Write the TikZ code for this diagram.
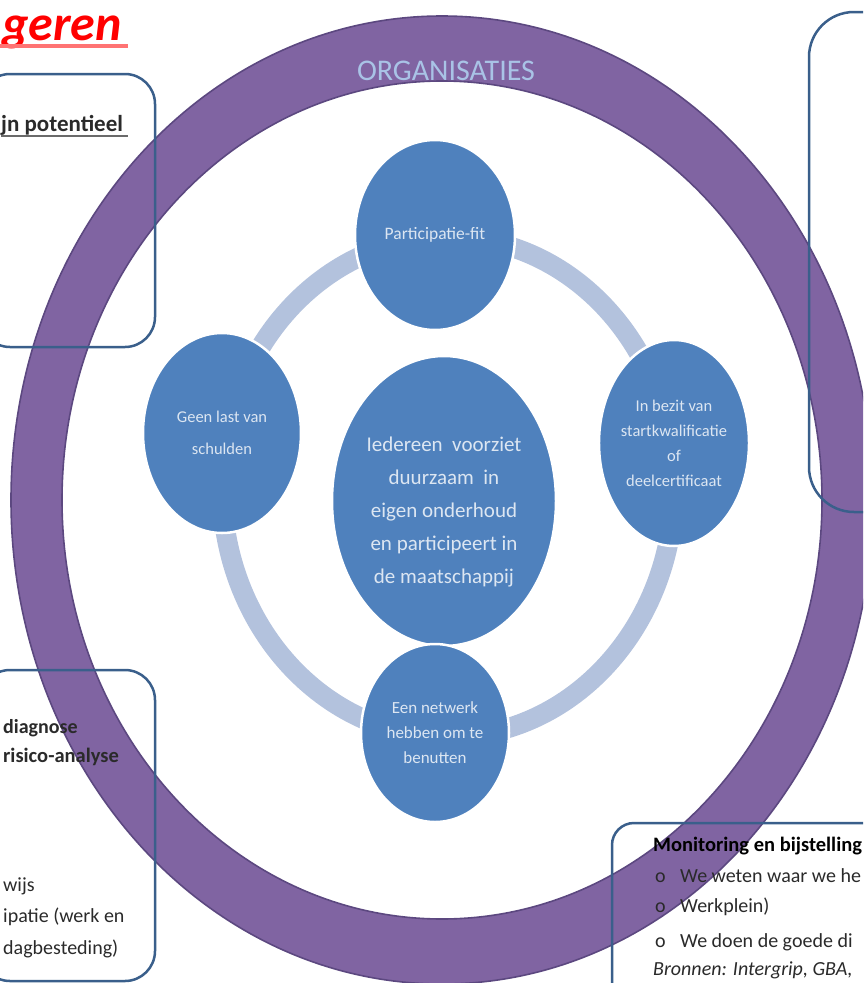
\documentclass[tikz,border=0pt]{standalone}
\usepackage{fontspec}
\setmainfont{Carlito}
\usetikzlibrary{shapes.geometric}
\definecolor{ringpurple}{HTML}{8064A2}
\definecolor{ringedge}{HTML}{5C4880}
\definecolor{circblue}{HTML}{4F81BD}
\definecolor{lightring}{HTML}{B3C2DD}
\definecolor{boxblue}{HTML}{3A5F8B}
\definecolor{circtext}{HTML}{DCE6F2}
\definecolor{orgtext}{HTML}{A9C3E6}
\definecolor{bodytext}{HTML}{2A2A2A}
\tikzset{
  goalcirc/.style={ellipse, fill=circblue, draw=white, line width=2.5pt, inner sep=0pt,
    text=circtext, align=center},
  framebox/.style={draw=boxblue, line width=2.5pt},
  boxtext/.style={anchor=base west, inner sep=0pt, text=bodytext},
}
\begin{document}
\begin{tikzpicture}[x=1pt,y=-1pt]
\useasboundingbox (0,0) rectangle (863,983);
\clip (0,0) rectangle (863,983);
% purple ring
\fill[ringpurple, even odd rule] (442,500) ellipse [x radius=431, y radius=484]
  (442,500) ellipse [x radius=380, y radius=419];
\draw[ringedge, line width=1.6pt] (442,500) ellipse [x radius=431, y radius=484];
\draw[ringedge, line width=1.6pt] (442,500) ellipse [x radius=380, y radius=419];
\node[text=orgtext, font=\fontsize{30}{30}\selectfont, anchor=base, inner sep=0pt] (org) at (446,80) {ORGANISATIES};
% light ring
\draw[lightring, line width=20pt] (448,487) ellipse [x radius=226, y radius=250];
% circles
\node[goalcirc, minimum width=160pt, minimum height=190pt, font=\fontsize{17.5}{20}\selectfont] (fit) at (435,235) {Participatie-fit};
\node[goalcirc, minimum width=158pt, minimum height=200pt, font=\fontsize{16.5}{32}\selectfont] (schuld) at (222,433) {Geen last van\\schulden};
\node[goalcirc, minimum width=150pt, minimum height=206pt, font=\fontsize{16.5}{25}\selectfont] (cert) at (674,443) {In bezit van\\startkwalificatie\\of\\deelcertificaat};
\node[goalcirc, minimum width=224pt, minimum height=290pt, font=\fontsize{21}{33}\selectfont] (goal) at (444,501) {Iedereen\ \ voorziet\\duurzaam\ \ in\\eigen onderhoud\\en participeert in\\de maatschappij\\[-51pt]};
\node[goalcirc, minimum width=148pt, minimum height=178pt, font=\fontsize{17}{25}\selectfont] (netw) at (435,733) {Een netwerk\\hebben om te\\benutten};
% boxes
\draw[framebox, rounded corners=30pt] (-20,74) rectangle (155,347);
\draw[framebox, rounded corners=30pt] (-20,670) rectangle (155,981);
\draw[framebox, rounded corners=45pt] (809,12) rectangle (920,512);
\draw[framebox, rounded corners=22pt] (612,823) rectangle (920,1020);
% title
\node[anchor=base west, inner sep=0pt, text=red, font=\fontsize{50}{50}\selectfont\bfseries\itshape] (title) at (2,40) {geren};
\draw[red!55, line width=4pt] (0,46) -- (128,46);
% top-left box text
\node[boxtext, font=\fontsize{23}{23}\selectfont\bfseries] (pot) at (1,131) {jn potentieel};
\draw[bodytext!70, line width=2pt] (pot.base west) ++(0,5) -- ++(127,0);
% bottom-left box text
\node[boxtext, font=\fontsize{20}{20}\selectfont\bfseries] (diag) at (3,733) {diagnose};
\node[boxtext, font=\fontsize{20.5}{20}\selectfont\bfseries] (risk) at (3,762) {risico-analyse};
\node[boxtext, font=\fontsize{20}{20}\selectfont] (wijs) at (3,891) {wijs};
\node[boxtext, font=\fontsize{20}{20}\selectfont] (ipat) at (3,922) {ipatie (werk en};
\node[boxtext, font=\fontsize{20}{20}\selectfont] (dagb) at (3,954) {dagbesteding)};
% bottom-right box text
\node[boxtext, font=\fontsize{20.5}{20}\selectfont\bfseries, text=black] (mon) at (653,851) {Monitoring en bijstelling};
\node[boxtext, font=\fontsize{20}{20}\selectfont] (b1) at (655,882) {o};
\node[boxtext, font=\fontsize{20}{20}\selectfont] (l1) at (680,882) {We weten waar we he};
\node[boxtext, font=\fontsize{20}{20}\selectfont] (b2) at (655,912) {o};
\node[boxtext, font=\fontsize{20}{20}\selectfont] (l2) at (680,912) {Werkplein)};
\node[boxtext, font=\fontsize{20}{20}\selectfont] (b3) at (655,947) {o};
\node[boxtext, font=\fontsize{20}{20}\selectfont] (l3) at (680,947) {We doen de goede di};
\node[boxtext, font=\fontsize{20}{20}\selectfont\itshape] (src) at (653,975) {Bronnen: Intergrip, GBA,};
\end{tikzpicture}
\end{document}
